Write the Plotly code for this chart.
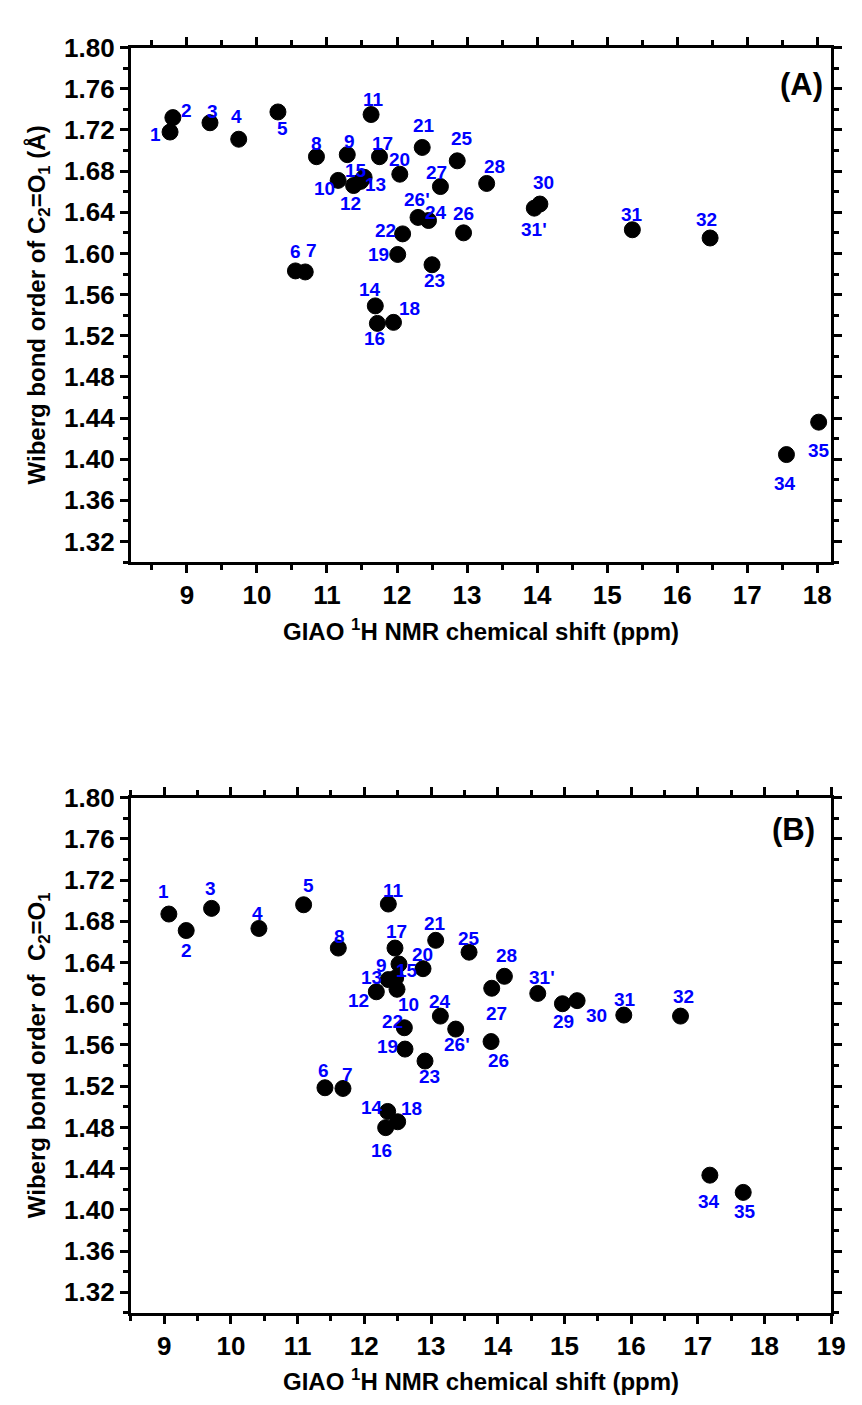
import plotly.graph_objects as go

# ---------------- data: panel (A) ----------------
labels_A = ["1", "2", "3", "4", "5", "6", "7", "8", "9", "10", "11", "12", "13", "14", "15",
            "16", "17", "18", "19", "20", "21", "22", "23", "24", "25", "26", "26'", "27", "28",
            "30", "31'", "31", "32", "34", "35"]
shift_A = [8.76, 8.80, 9.33, 9.74, 10.30, 10.55, 10.69, 10.85, 11.29, 11.16, 11.63, 11.38, 11.48,
           11.69, 11.53, 11.72, 11.75, 11.95, 12.01, 12.04, 12.36, 12.08, 12.50, 12.45, 12.86,
           12.95, 12.30, 12.62, 13.28, 14.04, 13.96, 15.36, 16.47, 17.56, 18.02]
wbo_A = [1.718, 1.732, 1.727, 1.711, 1.7375, 1.583, 1.582, 1.694, 1.696, 1.671, 1.735, 1.666, 1.670,
         1.549, 1.674, 1.532, 1.694, 1.533, 1.599, 1.677, 1.703, 1.619, 1.589, 1.632, 1.690,
         1.620, 1.635, 1.665, 1.668, 1.648, 1.644, 1.623, 1.615, 1.4045, 1.436]

# ---------------- data: panel (B) ----------------
labels_B = ["1", "2", "3", "4", "5", "6", "7", "8", "9", "10", "11", "12", "13", "14", "15",
            "16", "17", "18", "19", "20", "21", "22", "23", "24", "25", "26", "26'", "27", "28",
            "29", "30", "31'", "31", "32", "34", "35"]
shift_B = [9.07, 9.33, 9.71, 10.42, 11.09, 11.41, 11.68, 11.61, 12.52, 12.49, 12.36, 12.18, 12.36,
           12.35, 12.47, 12.32, 12.46, 12.50, 12.61, 12.88, 13.07, 12.60, 12.91, 13.14, 13.57,
           13.90, 13.37, 13.91, 14.10, 14.97, 15.19, 14.60, 15.89, 16.74, 17.18, 17.68]
wbo_B = [1.687, 1.671, 1.6925, 1.673, 1.696, 1.5185, 1.5178, 1.654, 1.6385, 1.614, 1.6967, 1.6116,
         1.6234, 1.4955, 1.625, 1.4798, 1.654, 1.4855, 1.556, 1.634, 1.6615, 1.5767, 1.5444,
         1.588, 1.650, 1.5633, 1.5754, 1.615, 1.6266, 1.600, 1.603, 1.610, 1.589, 1.588,
         1.4337, 1.417]

x_ticks_A = [9, 10, 11, 12, 13, 14, 15, 16, 17, 18]
x_ticks_B = [9, 10, 11, 12, 13, 14, 15, 16, 17, 18, 19]
y_ticks = [1.32, 1.36, 1.40, 1.44, 1.48, 1.52, 1.56, 1.60, 1.64, 1.68, 1.72, 1.76, 1.80]

# ---------------- label placement (screen px offsets: dx right, dy down) ----------------
offs_A = [(-15, 2), (14, -7), (3, -11), (-2, -23), (5, 17), (0, -19), (6, -21), (0, -13), (2, -13),
          (-14, 8), (2, -15), (-3, 18), (15, 3), (-5, -16), (-8, -7), (-3, 15), (3, -13),
          (16, -14), (-19, 0), (0, -15), (2, -22), (-17, -3), (2, 16), (7, -8), (5, -22),
          (0, -19), (-1, -18), (-4, -14), (8, -17), (4, -22), (0, 21), (0, -15), (-4, -18),
          (-1, 29), (0, 28)]
offs_B = [(-5, -23), (0, 20), (-1, -20), (-1, -15), (5, -19), (-1, -17), (5, -14), (1, -12),
          (-18, 1), (11, 15), (5, -14), (-18, 9), (-17, -2), (-16, -4), (11, -7), (-4, 23),
          (2, -17), (14, -13), (-18, -3), (-1, -14), (-1, -17), (-12, -6), (4, 15), (0, -15),
          (0, -14), (7, 19), (1, 15), (5, 25), (2, -21), (1, 18), (19, 15), (4, -16), (1, -16),
          (3, -20), (-1, 26), (2, 19)]

FONT = "Liberation Sans, Arial, Helvetica, sans-serif"
W, H = 862, 1405
# plot-area pixel boxes
xA0, xA1, yA0, yA1 = 133, 845, 33, 553
xB0, xB1, yB0, yB1 = 133, 845, 791, 1312

fig = go.Figure()
fig.add_trace(go.Scatter(x=shift_A, y=wbo_A, mode="markers", xaxis="x", yaxis="y",
                         marker=dict(size=16, color="black", line=dict(width=1, color="black")),
                         showlegend=False, hoverinfo="skip"))
fig.add_trace(go.Scatter(x=shift_B, y=wbo_B, mode="markers", xaxis="x2", yaxis="y2",
                         marker=dict(size=16, color="black", line=dict(width=1, color="black")),
                         showlegend=False, hoverinfo="skip"))

annotations = []
for lab, xv, yv, (dx, dy) in zip(labels_A, shift_A, wbo_A, offs_A):
    annotations.append(dict(x=xv, y=yv, xref="x", yref="y", text=lab, showarrow=False,
                            xshift=dx, yshift=-dy, xanchor="center", yanchor="middle",
                            font=dict(family=FONT, size=19, color="#0000FF", weight="bold")))
for lab, xv, yv, (dx, dy) in zip(labels_B, shift_B, wbo_B, offs_B):
    annotations.append(dict(x=xv, y=yv, xref="x2", yref="y2", text=lab, showarrow=False,
                            xshift=dx, yshift=-dy, xanchor="center", yanchor="middle",
                            font=dict(family=FONT, size=19, color="#0000FF", weight="bold")))
annotations.append(dict(x=0.958, y=0.929, xref="x domain", yref="y domain", text="(A)",
                        showarrow=False, xanchor="center", yanchor="middle",
                        font=dict(family=FONT, size=31, color="black", weight="bold")))
annotations.append(dict(x=0.946, y=0.938, xref="x2 domain", yref="y2 domain", text="(B)",
                        showarrow=False, xanchor="center", yanchor="middle",
                        font=dict(family=FONT, size=31, color="black", weight="bold")))

tickfont = dict(family=FONT, size=26, color="black", weight="bold")
titlefont = dict(family=FONT, size=24, color="black", weight="bold")


def xaxis(dom_y_anchor, rng, ticks):
    return dict(domain=[xA0 / W, xA1 / W], anchor=dom_y_anchor, range=rng,
                tickmode="array", tickvals=ticks, ticktext=[str(t) for t in ticks],
                ticks="outside", ticklen=8, tickwidth=3, tickcolor="black",
                minor=dict(dtick=0.5, tick0=8.5, ticks="outside", ticklen=5, tickwidth=3,
                           tickcolor="black", showgrid=False),
                showline=True, linewidth=3, linecolor="black", mirror="allticks",
                showgrid=False, zeroline=False, tickfont=tickfont,
                title=dict(text="GIAO <sup>1</sup>H NMR chemical shift (ppm)", font=titlefont,
                           standoff=14))


def yaxis(dom, anchor, title):
    return dict(domain=dom, anchor=anchor, range=[1.30, 1.80],
                tickmode="array", tickvals=y_ticks, ticktext=["%.2f" % t for t in y_ticks],
                ticks="outside", ticklen=8, tickwidth=3, tickcolor="black",
                minor=dict(dtick=0.02, tick0=1.30, ticks="outside", ticklen=5, tickwidth=3,
                           tickcolor="black", showgrid=False),
                showline=True, linewidth=3, linecolor="black", mirror="allticks",
                showgrid=False, zeroline=False, tickfont=tickfont,
                title=dict(text=title, font=titlefont, standoff=12))


fig.update_layout(
    width=W, height=H, margin=dict(l=0, r=0, t=0, b=0),
    paper_bgcolor="white", plot_bgcolor="white",
    xaxis=xaxis("y", [8.2, 18.2], x_ticks_A),
    yaxis=yaxis([1 - yA1 / H, 1 - yA0 / H], "x",
                "Wiberg bond order of C<sub>2</sub>=O<sub>1</sub> (Å)"),
    xaxis2=xaxis("y2", [8.5, 19], x_ticks_B),
    yaxis2=yaxis([1 - yB1 / H, 1 - yB0 / H], "x2",
                 "Wiberg bond order of  C<sub>2</sub>=O<sub>1</sub>"),
    annotations=annotations,
)

fig.write_html("out.html", config={"displayModeBar": False},
               post_script="document.body.style.margin='0';")
